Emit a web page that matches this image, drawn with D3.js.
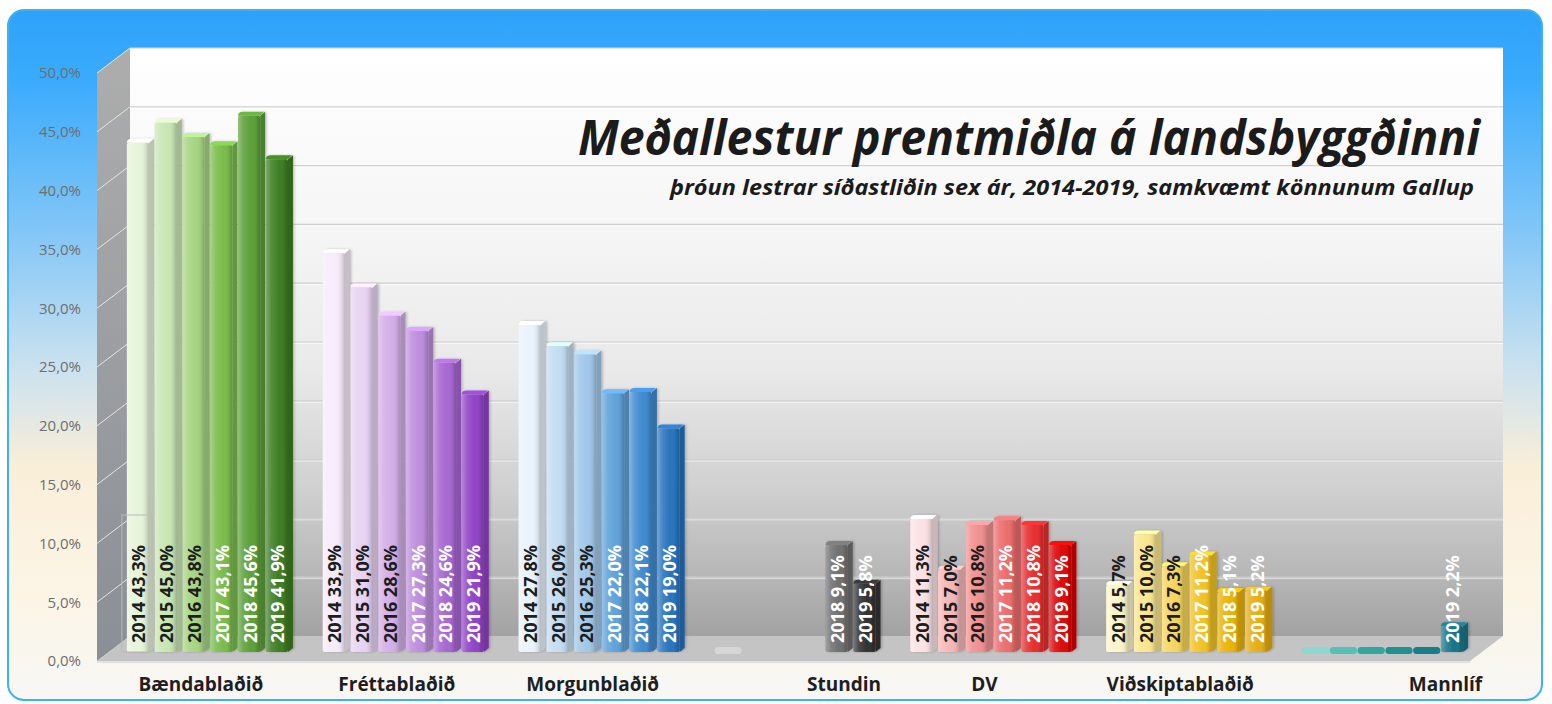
<!DOCTYPE html>
<html>
<head>
<meta charset="utf-8">
<script src="https://cdn.jsdelivr.net/npm/d3@7"></script>
<style>
  body { margin: 0; background: #ffffff; }
  svg { display: block; font-family: "Open Sans", sans-serif; }
</style>
</head>
<body>
<script>
var width = 1552;
var height = 704;

// data (percent)
var categories = ["Bændablaðið", "Fréttablaðið", "Morgunblaðið", "Stundin", "DV", "Viðskiptablaðið", "Mannlíf"];
var years = ["2014", "2015", "2016", "2017", "2018", "2019"];

var baendabladid = [43.3, 45.0, 43.8, 43.1, 45.6, 41.9];
var frettabladid = [33.9, 31.0, 28.6, 27.3, 24.6, 21.9];
var morgunbladid = [27.8, 26.0, 25.3, 22.0, 22.1, 19.0];
var stundin = [0, null, null, null, 9.1, 5.8];
var dv = [11.3, 7.0, 10.8, 11.2, 10.8, 9.1];
// bar heights as drawn; the 2017 bar is drawn lower than its printed label
var vidskiptabladid = [5.7, 10.0, 7.3, 8.2, 5.1, 5.2];
var vidskiptabladidLabels = [5.7, 10.0, 7.3, 11.2, 5.1, 5.2];
var mannlif = [0, 0, 0, 0, 0, 2.2];

var yTicks = [0, 5, 10, 15, 20, 25, 30, 35, 40, 45, 50];

var title = "Meðallestur prentmiðla á landsbyggðinni";
var subtitle = "þróun lestrar síðastliðin sex ár, 2014-2019, samkvæmt könnunum Gallup";

var barValues = [baendabladid, frettabladid, morgunbladid, stundin, dv, vidskiptabladid, mannlif];
var labelValues = [baendabladid, frettabladid, morgunbladid, stundin, dv, vidskiptabladidLabels, mannlif];

// colours per paper, light (2014) to dark (2019)
var palettes = [
  ["#e6f4da", "#c8e6b3", "#a5d482", "#79bc4b", "#5ca038", "#3f7d25"],
  ["#f6ebfa", "#e7d2f2", "#d3aee8", "#be8edd", "#a767d2", "#9043c5"],
  ["#e8f3fc", "#c3dcf2", "#a0c7e9", "#60a2da", "#408ace", "#2773bd"],
  ["#d6d6d6", "#a0a0a0", "#909090", "#808080", "#707070", "#333333"],
  ["#fce1e4", "#f6b6b6", "#f09090", "#eb6d6d", "#e62e2e", "#dc0707"],
  ["#fcf5c8", "#fbe68e", "#f6d55e", "#f1c226", "#eab304", "#e6ae14"],
  ["#8ad8d0", "#56bfb6", "#33a6a0", "#21918f", "#187e8a", "#177589"]
];

// 3d layout
var depthX = 33, depthY = -25;          // full floor depth
var frontX0 = 97, frontX1 = 1470;
var yFront = d3.scaleLinear().domain([0, 50]).range([661, 73]);
var yBack = d3.scaleLinear().domain([0, 50]).range([636, 48]);
var yBar = d3.scaleLinear().domain([0, 50]).range([652, 64]);

var xGroup = d3.scaleBand().domain(categories).range([112, 1483])
  .paddingInner(0.152).paddingOuter(0.076);
var xYear = d3.scaleBand().domain(years).range([0, xGroup.bandwidth()]).paddingInner(0.02);

var svg = d3.select("body").append("svg")
  .attr("width", width)
  .attr("height", height);

var defs = svg.append("defs");

var frameGrad = defs.append("linearGradient").attr("id", "frameGrad")
  .attr("x1", "0%").attr("y1", "0%").attr("x2", "0%").attr("y2", "100%");
[[0, "#2ea2fb"], [0.1, "#3aabfc"], [0.32, "#82c6f7"], [0.52, "#cbe2ef"],
 [0.66, "#f9eed8"], [0.85, "#fcf5e6"], [1, "#f7f7f5"]].forEach(function(s) {
  frameGrad.append("stop").attr("offset", s[0]).attr("stop-color", s[1]);
});

var wallGrad = defs.append("linearGradient").attr("id", "wallGrad")
  .attr("x1", "0%").attr("y1", "0%").attr("x2", "0%").attr("y2", "100%");
[[0, "#ffffff"], [0.3, "#f6f6f6"], [0.55, "#e9e9e9"], [0.75, "#d0d0d0"],
 [0.9, "#b6b6b6"], [1, "#a2a2a2"]].forEach(function(s) {
  wallGrad.append("stop").attr("offset", s[0]).attr("stop-color", s[1]);
});

var sideGrad = defs.append("linearGradient").attr("id", "sideGrad")
  .attr("x1", "0%").attr("y1", "0%").attr("x2", "0%").attr("y2", "100%");
sideGrad.append("stop").attr("offset", 0).attr("stop-color", "#adadad");
sideGrad.append("stop").attr("offset", 1).attr("stop-color", "#8a8f96");

var shine = defs.append("linearGradient").attr("id", "shine")
  .attr("x1", "0%").attr("y1", "0%").attr("x2", "100%").attr("y2", "0%");
[[0, "#ffffff", 0.35], [0.25, "#ffffff", 0.12], [0.6, "#ffffff", 0],
 [0.85, "#000000", 0.08], [1, "#000000", 0.22]].forEach(function(s) {
  shine.append("stop").attr("offset", s[0]).attr("stop-color", s[1]).attr("stop-opacity", s[2]);
});

var shadow = defs.append("filter").attr("id", "barShadow")
  .attr("x", "-20%").attr("y", "-5%").attr("width", "150%").attr("height", "115%");
shadow.append("feDropShadow").attr("dx", 1.5).attr("dy", 0).attr("stdDeviation", 1.2)
  .attr("flood-color", "#000").attr("flood-opacity", 0.22);

// frame
svg.append("rect")
  .attr("x", 8).attr("y", 10)
  .attr("width", 1534).attr("height", 690)
  .attr("rx", 16)
  .attr("fill", "url(#frameGrad)")
  .attr("stroke", "#3cb3ee")
  .attr("stroke-width", 2);

// back wall
svg.append("rect")
  .attr("x", frontX0 + depthX).attr("y", yBack(50))
  .attr("width", frontX1 - frontX0).attr("height", yBack(0) - yBack(50))
  .attr("fill", "url(#wallGrad)");

// left side wall
svg.append("path")
  .attr("d", "M" + frontX0 + "," + yFront(50) + " L" + (frontX0 + depthX) + "," + yBack(50) +
    " L" + (frontX0 + depthX) + "," + yBack(0) + " L" + frontX0 + "," + yFront(0) + " Z")
  .attr("fill", "url(#sideGrad)");

// floor
svg.append("path")
  .attr("d", "M" + frontX0 + "," + yFront(0) + " L" + (frontX0 + depthX) + "," + yBack(0) +
    " L" + (frontX1 + depthX) + "," + yBack(0) + " L" + frontX1 + "," + yFront(0) + " Z")
  .attr("fill", "#c4c4c4");
svg.append("path")
  .attr("d", "M" + frontX0 + "," + yFront(0) + " L" + frontX1 + "," + yFront(0) +
    " L" + frontX1 + "," + (yFront(0) + 2) + " L" + frontX0 + "," + (yFront(0) + 2) + " Z")
  .attr("fill", "#e2e2e2");

// gridlines on back wall and side wall
var grid = svg.append("g");
yTicks.filter(function(t) { return t > 0; }).forEach(function(t) {
  grid.append("line")
    .attr("x1", frontX0 + depthX).attr("x2", frontX1 + depthX)
    .attr("y1", yBack(t)).attr("y2", yBack(t))
    .attr("stroke", "#cfcfcf").attr("stroke-width", 1.2);
  grid.append("line")
    .attr("x1", frontX0 + depthX).attr("x2", frontX1 + depthX)
    .attr("y1", yBack(t) + 1.5).attr("y2", yBack(t) + 1.5)
    .attr("stroke", "#ffffff").attr("stroke-opacity", 0.6).attr("stroke-width", 1);
  grid.append("line")
    .attr("x1", frontX0).attr("x2", frontX0 + depthX)
    .attr("y1", yFront(t)).attr("y2", yBack(t))
    .attr("stroke", "#e4e4e4").attr("stroke-width", 1);
});

// y axis labels
var yAxis = d3.axisLeft(yFront)
  .tickValues(yTicks)
  .tickSize(0)
  .tickPadding(0)
  .tickFormat(function(d) { return d3.format(".1f")(d).replace(".", ",") + "%"; });

var yAxisG = svg.append("g")
  .attr("transform", "translate(81,0)")
  .call(yAxis);
yAxisG.select(".domain").remove();
yAxisG.selectAll("text")
  .attr("fill", "#6e6e6e")
  .style("font-size", "15px")
  .style("font-family", "'Open Sans', sans-serif");

// bars
var sideDepth = 5;
var barsG = svg.append("g");
var labelsG = svg.append("g");

function fmt(v) {
  return d3.format(".1f")(v).replace(".", ",") + "%";
}

categories.forEach(function(cat, ci) {
  var g = barsG.append("g").attr("transform", "translate(" + xGroup(cat) + ",0)");
  years.forEach(function(yr, yi) {
    var v = barValues[ci][yi];
    if (v === null) return;
    var color = palettes[ci][yi];
    var x = xYear(yr);
    var w = xYear.bandwidth();
    var fw = w - sideDepth;
    var base = yBar(0);
    var top = yBar(v);
    var dark = d3.color(color).darker(0.6).formatHex();
    var light = d3.color(color).brighter(0.4).formatHex();

    if (v === 0) {
      // zero-height bar: only its flat lid shows on the floor
      g.append("rect")
        .attr("x", x).attr("y", base - 5)
        .attr("width", w).attr("height", 7)
        .attr("rx", 3.5)
        .attr("fill", color);
      return;
    }

    var bar = g.append("g").attr("filter", "url(#barShadow)");
    // side face
    bar.append("path")
      .attr("d", "M" + (x + fw) + "," + top + " L" + (x + w) + "," + (top - sideDepth + 1) +
        " L" + (x + w) + "," + (base - sideDepth + 1) + " L" + (x + fw) + "," + base + " Z")
      .attr("fill", dark);
    // top face
    bar.append("path")
      .attr("d", "M" + x + "," + top + " Q" + x + "," + (top - sideDepth + 1) + " " + (x + sideDepth) + "," + (top - sideDepth + 1) +
        " L" + (x + w - 1) + "," + (top - sideDepth + 1) + " L" + (x + fw) + "," + top + " Z")
      .attr("fill", light);
    // front face
    bar.append("rect")
      .attr("x", x).attr("y", top)
      .attr("width", fw).attr("height", base - top)
      .attr("rx", 2)
      .attr("fill", color);
    bar.append("rect")
      .attr("x", x).attr("y", top)
      .attr("width", fw).attr("height", base - top)
      .attr("rx", 2)
      .attr("fill", "url(#shine)");

    var lv = labelValues[ci][yi];
    var cx = xGroup(cat) + x + fw / 2 + 1;
    if (ci === 0 && yi === 0) {
      labelsG.append("rect")
        .attr("x", xGroup(cat) + x - 5).attr("y", base - 137)
        .attr("width", fw + 8).attr("height", 137)
        .attr("fill", "none")
        .attr("stroke", "#b9b9b9").attr("stroke-width", 1);
    }
    labelsG.append("text")
      .attr("transform", "translate(" + cx + "," + (base - 9) + ") rotate(-90)")
      .attr("dy", "0.36em")
      .attr("text-anchor", "start")
      .attr("fill", yi < 3 ? "#1d1d1d" : "#ffffff")
      .style("font-size", "18px")
      .style("font-weight", "700")
      .text(yr + " " + fmt(lv));
  });
});

// category labels, centred on the visible bars
categories.forEach(function(cat, ci) {
  var centres = [];
  years.forEach(function(yr, yi) {
    var v = barValues[ci][yi];
    if (v) centres.push(xGroup(cat) + xYear(yr) + xYear.bandwidth() / 2);
  });
  svg.append("text")
    .attr("x", d3.mean(centres) - 9)
    .attr("y", 691)
    .attr("text-anchor", "middle")
    .attr("fill", "#1e1e1e")
    .style("font-size", "19px")
    .style("font-weight", "700")
    .text(cat);
});

// title and subtitle
svg.append("text")
  .attr("x", 1480).attr("y", 155)
  .attr("text-anchor", "end")
  .attr("textLength", 902)
  .attr("lengthAdjust", "spacingAndGlyphs")
  .attr("fill", "#1b1b1b")
  .style("font-size", "48px")
  .style("font-weight", "700")
  .style("font-style", "italic")
  .text(title);

svg.append("text")
  .attr("x", 1474).attr("y", 195)
  .attr("text-anchor", "end")
  .attr("textLength", 804)
  .attr("lengthAdjust", "spacingAndGlyphs")
  .attr("fill", "#1b1b1b")
  .style("font-size", "21px")
  .style("font-weight", "700")
  .style("font-style", "italic")
  .text(subtitle);
</script>
</body>
</html>
